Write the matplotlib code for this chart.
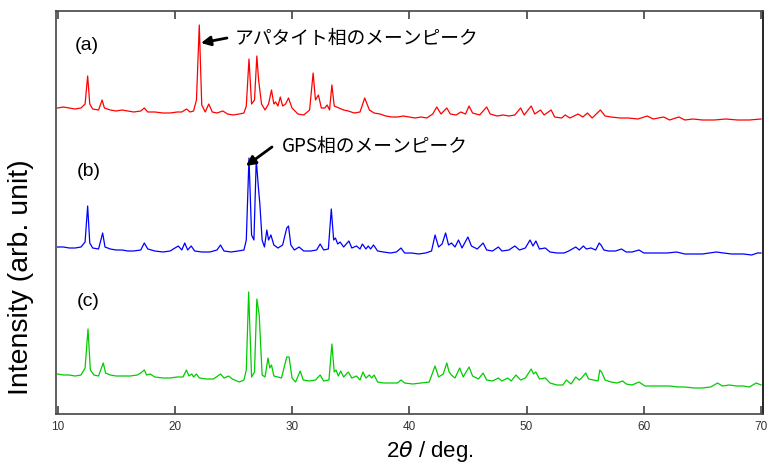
import numpy as np
import matplotlib
matplotlib.use("Agg")
import matplotlib.pyplot as plt

plt.rcParams['font.family'] = ['Liberation Sans', 'DejaVu Sans']

# (2theta, intensity)
pattern_a = [
    (10.0, 26), (10.5, 27), (11.0, 26), (11.5, 25), (12.0, 26), (12.35, 30), (12.57, 58),
    (12.75, 30), (13.0, 25), (13.5, 24), (13.8, 34), (14.0, 26), (14.5, 24), (15.0, 23),
    (15.5, 24), (16.0, 23), (16.5, 22), (17.1, 23), (17.4, 26), (17.7, 22), (18.3, 22),
    (19.0, 21), (19.6, 21), (20.2, 22), (20.6, 22), (21.0, 25), (21.3, 22), (21.6, 23),
    (21.85, 34), (22.09, 109), (22.3, 29), (22.6, 22), (22.9, 30), (23.2, 22), (23.6, 21),
    (24.1, 23), (24.5, 20), (25.0, 19), (25.5, 20), (25.9, 21), (26.1, 28), (26.33, 75),
    (26.55, 30), (26.8, 34), (27.0, 78), (27.15, 54), (27.4, 30), (27.7, 24), (28.0, 30),
    (28.25, 44), (28.45, 30), (28.6, 32), (28.8, 28), (29.0, 37), (29.2, 28), (29.45, 30),
    (29.7, 36), (30.0, 26), (30.5, 20), (31.0, 19), (31.5, 24), (31.8, 61), (32.0, 34),
    (32.25, 39), (32.5, 26), (32.8, 26), (33.0, 29), (33.2, 24), (33.4, 49), (33.6, 28),
    (34.0, 26), (34.4, 24), (34.8, 23), (35.3, 21), (35.8, 22), (36.2, 36), (36.6, 24),
    (37.0, 21), (37.5, 20), (38.0, 18), (38.5, 17), (39.0, 17), (39.5, 18), (40.0, 17),
    (40.5, 16), (41.0, 17), (41.5, 16), (42.0, 20), (42.35, 27), (42.7, 20), (43.2, 26),
    (43.5, 20), (44.0, 19), (44.4, 22), (44.8, 20), (45.1, 28), (45.4, 21), (46.0, 19),
    (46.6, 27), (46.9, 20), (47.5, 18), (48.0, 19), (48.5, 18), (49.0, 19), (49.5, 26),
    (49.8, 19), (50.4, 28), (50.7, 20), (51.2, 24), (51.5, 19), (52.1, 24), (52.4, 17),
    (53.0, 16), (53.3, 19), (53.7, 16), (54.4, 20), (54.8, 17), (55.2, 21), (55.6, 16),
    (56.3, 24), (56.7, 18), (57.2, 17), (58.0, 16), (58.7, 16), (59.5, 15), (60.3, 18),
    (60.8, 15), (61.7, 17), (62.2, 14), (63.0, 17), (63.5, 14), (64.2, 15), (65.0, 14),
    (66.0, 14), (67.0, 15), (68.0, 14), (69.0, 14), (70.0, 15),
]

pattern_b = [
    (10.0, 17), (10.5, 17), (11.0, 16), (11.5, 16), (12.0, 17), (12.35, 22), (12.57, 58),
    (12.75, 21), (13.0, 16), (13.5, 15), (13.85, 31), (14.05, 17), (14.5, 15), (15.0, 14),
    (15.5, 14), (16.0, 13), (16.5, 13), (17.1, 14), (17.4, 21), (17.7, 15), (18.3, 13),
    (19.0, 12), (19.6, 13), (20.3, 18), (20.6, 14), (20.85, 21), (21.1, 14), (21.4, 18),
    (21.7, 13), (22.3, 12), (23.0, 12), (23.6, 14), (23.9, 19), (24.2, 13), (24.8, 12),
    (25.4, 13), (25.9, 14), (26.1, 24), (26.33, 106), (26.55, 29), (26.75, 24), (26.95, 104),
    (27.15, 74), (27.25, 61), (27.45, 24), (27.65, 17), (27.85, 34), (28.0, 24), (28.2, 29),
    (28.45, 19), (28.8, 16), (29.2, 19), (29.55, 36), (29.7, 38), (29.9, 19), (30.2, 14),
    (30.6, 17), (31.0, 13), (31.6, 13), (32.1, 14), (32.4, 20), (32.7, 14), (33.1, 15),
    (33.35, 55), (33.55, 24), (33.7, 26), (33.9, 20), (34.1, 22), (34.4, 17), (34.85, 23),
    (35.1, 16), (35.5, 18), (35.8, 15), (36.0, 20), (36.3, 15), (36.5, 18), (36.7, 15),
    (36.95, 19), (37.3, 13), (37.8, 12), (38.4, 11), (38.9, 12), (39.3, 16), (39.6, 11),
    (40.2, 11), (40.8, 10), (41.4, 11), (41.9, 13), (42.2, 29), (42.5, 17), (42.8, 20),
    (43.1, 31), (43.35, 19), (43.6, 21), (43.9, 17), (44.2, 24), (44.5, 16), (45.0, 27),
    (45.3, 18), (45.8, 15), (46.3, 21), (46.6, 14), (47.1, 13), (47.6, 17), (47.9, 13),
    (48.5, 14), (49.0, 18), (49.4, 14), (49.9, 16), (50.3, 24), (50.55, 18), (50.8, 23),
    (51.1, 15), (51.6, 16), (52.0, 12), (52.6, 11), (53.2, 11), (53.6, 13), (54.2, 17),
    (54.5, 14), (54.85, 18), (55.1, 15), (55.5, 16), (55.9, 14), (56.2, 21), (56.35, 19),
    (56.6, 14), (57.0, 13), (57.6, 13), (58.1, 15), (58.5, 12), (59.0, 12), (59.6, 14),
    (60.0, 11), (61.0, 11), (62.0, 11), (62.8, 12), (63.5, 10), (64.5, 10), (65.0, 10),
    (66.2, 12), (66.8, 11), (67.5, 10), (68.5, 10), (69.2, 9), (69.7, 11), (70.0, 11),
]

pattern_c = [
    (10.0, 20), (10.5, 19), (11.0, 19), (11.5, 18), (12.0, 19), (12.35, 26), (12.6, 65),
    (12.8, 24), (13.1, 19), (13.5, 18), (13.9, 31), (14.1, 21), (14.5, 19), (15.0, 18),
    (15.6, 18), (16.2, 18), (16.8, 19), (17.1, 21), (17.4, 24), (17.6, 19), (17.9, 20),
    (18.3, 17), (19.0, 16), (19.6, 16), (20.2, 17), (20.7, 17), (21.0, 24), (21.2, 18),
    (21.45, 20), (21.6, 17), (21.85, 20), (22.1, 16), (22.7, 15), (23.3, 15), (23.9, 20),
    (24.2, 16), (24.6, 18), (24.9, 15), (25.5, 12), (25.9, 14), (26.1, 24), (26.3, 102),
    (26.55, 17), (26.8, 22), (27.0, 95), (27.2, 79), (27.45, 19), (27.7, 17), (27.95, 36),
    (28.1, 26), (28.25, 29), (28.45, 18), (28.8, 17), (29.1, 16), (29.55, 37), (29.75, 37),
    (30.0, 16), (30.3, 12), (30.7, 23), (30.95, 14), (31.5, 13), (32.0, 14), (32.4, 19),
    (32.7, 13), (33.15, 14), (33.4, 50), (33.6, 22), (33.75, 24), (33.95, 18), (34.15, 23),
    (34.4, 17), (34.8, 22), (35.1, 16), (35.5, 18), (35.8, 14), (36.05, 22), (36.3, 16),
    (36.6, 19), (36.8, 16), (37.0, 19), (37.3, 12), (37.8, 11), (38.4, 11), (39.0, 11),
    (39.3, 14), (39.6, 11), (40.3, 10), (41.0, 11), (41.7, 12), (42.2, 28), (42.5, 17),
    (42.9, 20), (43.2, 31), (43.4, 22), (43.6, 19), (43.9, 16), (44.3, 26), (44.6, 17),
    (45.1, 27), (45.4, 18), (45.9, 15), (46.3, 21), (46.6, 14), (47.1, 13), (47.6, 16),
    (47.9, 13), (48.4, 16), (48.7, 13), (49.1, 19), (49.5, 14), (49.9, 16), (50.4, 25),
    (50.6, 20), (50.8, 22), (51.1, 15), (51.6, 16), (52.0, 11), (52.6, 9), (53.1, 9),
    (53.4, 14), (53.8, 10), (54.2, 17), (54.5, 14), (54.7, 16), (55.05, 21), (55.3, 15),
    (55.7, 14), (56.1, 13), (56.25, 24), (56.4, 22), (56.7, 14), (57.2, 12), (57.7, 11),
    (58.2, 13), (58.5, 10), (59.0, 9), (59.6, 12), (60.1, 8), (60.8, 8), (61.5, 8),
    (62.2, 8), (62.9, 7), (63.5, 7), (64.3, 6), (65.0, 6), (65.7, 7), (66.3, 11), (66.7, 8),
    (67.3, 9), (67.9, 8), (68.5, 8), (69.0, 7), (69.6, 11), (70.0, 9),
]

offsets = [280, 150, 20]
colors = ['#ff0000', '#0000ff', '#00cc00']
panel_labels = ['(a)', '(b)', '(c)']
label_pos = [(11.5, 369), (11.66, 242), (11.66, 112)]
xticks = [10, 20, 30, 40, 50, 60, 70]

fig = plt.figure(figsize=(7.68, 4.65), dpi=100)
ax = fig.add_axes([56 / 768, 51 / 465, 707 / 768, 403 / 465])

for pat, off, c in zip([pattern_a, pattern_b, pattern_c], offsets, colors):
    xy = np.array(pat, dtype=float)
    ax.plot(xy[:, 0], xy[:, 1] + off, color=c, lw=0.9)

for lab, (x, y) in zip(panel_labels, label_pos):
    ax.text(x, y, lab, fontsize=14, ha='left', va='center')

# arrows pointing at the main peaks
jp = ['Noto Sans CJK JP', 'DejaVu Sans']
ax.annotate('', xy=(22.23, 371), xytext=(24.45, 376),
            arrowprops=dict(arrowstyle='-|>', color='black', lw=2, mutation_scale=14,
                            shrinkA=0, shrinkB=0))
ax.text(25.13, 376, 'アパタイト相のメーンピーク', family=jp, fontsize=13.5, va='center')
ax.annotate('', xy=(26.07, 248), xytext=(28.29, 267),
            arrowprops=dict(arrowstyle='-|>', color='black', lw=2, mutation_scale=14,
                            shrinkA=0, shrinkB=0))
ax.text(29.14, 268, 'GPS相のメーンピーク', family=jp, fontsize=13.5, va='center')

ax.set_xlim(9.87, 70.17)
ax.set_ylim(0, 403)
ax.set_xticks(xticks)
ax.set_yticks([])
ax.tick_params(axis='x', direction='in', top=True, length=6, width=1.2,
               labelsize=8.5, labelcolor='#333333', color='#444444', pad=5)
for s in ax.spines.values():
    s.set_color('#444444')
    s.set_linewidth(1.2)
ax.spines['right'].set_color('black')

ax.set_xlabel('2$\\theta$ / deg.', fontsize=16)
ax.xaxis.set_label_coords((430 - 56) / 707, -0.062)
ax.set_ylabel('Intensity (arb. unit)', fontsize=20.5)
ax.yaxis.set_label_coords(-0.031, 0.34)

fig.savefig('out.png', dpi=100)
